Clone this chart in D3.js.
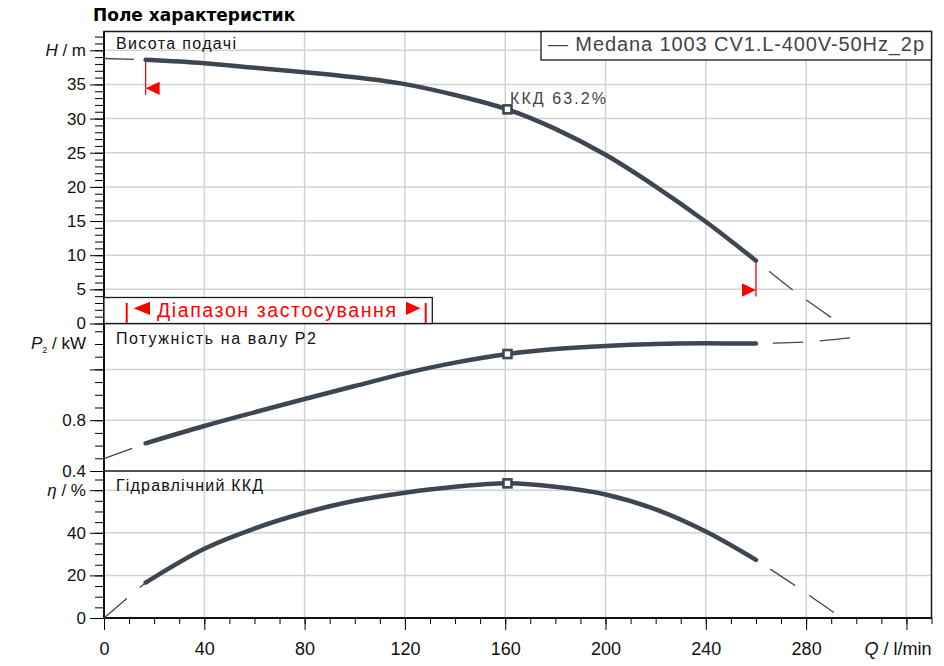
<!DOCTYPE html>
<html>
  <head>
    <script src="https://d3js.org/d3.v7.min.js"></script>
    <style>
      body { margin: 0; background: #fff; }
      svg { display: block; font-family: "Liberation Sans", Arial, sans-serif; }
    </style>
  </head>
  <body>
    <svg width="944" height="666"></svg>
    <script>
      // operating range of the pump (flow in l/min)
      const flow = [16.6, 40, 60, 80, 100, 120, 140, 160.9, 180, 200, 220, 240, 260];
      const head = [38.6, 38.1, 37.45, 36.8, 36.05, 35.05, 33.45, 31.35, 28.5, 24.7, 20.05, 14.9, 9.2];
      const power = [0.618, 0.754, 0.862, 0.967, 1.069, 1.169, 1.253, 1.321, 1.36, 1.385, 1.4, 1.405, 1.403];
      const efficiency = [16.6, 32.5, 42.0, 49.4, 55.0, 58.8, 61.6, 63.2, 61.6, 58.0, 51.0, 40.6, 27.3];

      // dashed parts outside the range
      const flowLeft = [0, 16.6];
      const headLeft = [38.8, 38.6];
      const powerLeft = [0.497, 0.618];
      const effLeft = [0, 16.6];
      const flowRight = [260, 275, 291.5];
      const headRight = [9.2, 4.8, 0.5];
      const effRight = [27.3, 15.7, 2.2];
      const flowRightP = [260, 280, 298.5];
      const powerRight = [1.403, 1.416, 1.45];

      // best efficiency point
      const bepFlow = 160.9;
      const bepHead = 31.35;
      const bepPower = 1.321;
      const bepEff = 63.2;

      const qTicks = [0, 40, 80, 120, 160, 200, 240, 280, 320];
      const hTicks = [0, 5, 10, 15, 20, 25, 30, 35, 40];
      const pTicks = [0.4, 0.8, 1.2];
      const eTicks = [0, 20, 40, 60];

      const curveColor = "#3d4651";
      const gridColor = "#d2d2d2";

      const svg = d3.select("svg");
      const plotL = 104, plotR = 931.5, plotT = 31.5;

      const x = d3.scaleLinear([0, 330], [plotL, plotR]);
      const yH = d3.scaleLinear([0, 42.75], [323.5, plotT]);
      const yP = d3.scaleLinear([0.4, 1.555], [471, 324.3]);
      const yE = d3.scaleLinear([0, 69], [618, 471]);

      // title
      svg.append("text")
        .attr("x", 93).attr("y", 21)
        .attr("font-family", "DejaVu Sans")
        .attr("font-weight", "bold")
        .attr("font-size", 17)
        .text("Поле характеристик");

      // grid
      const grid = svg.append("g").attr("stroke", gridColor).attr("stroke-width", 1.5);
      grid.selectAll(".v").data(qTicks.slice(1)).join("line")
        .attr("x1", d => x(d)).attr("x2", d => x(d))
        .attr("y1", plotT).attr("y2", 618);
      grid.selectAll(".h").data(hTicks.slice(1)).join("line")
        .attr("x1", plotL).attr("x2", plotR)
        .attr("y1", d => yH(d)).attr("y2", d => yH(d));
      grid.selectAll(".p").data(pTicks.slice(1)).join("line")
        .attr("x1", plotL).attr("x2", plotR)
        .attr("y1", d => yP(d)).attr("y2", d => yP(d));
      grid.selectAll(".e").data(eTicks.slice(1)).join("line")
        .attr("x1", plotL).attr("x2", plotR)
        .attr("y1", d => yE(d)).attr("y2", d => yE(d));

      // frame and panel separators
      svg.append("rect")
        .attr("x", plotL).attr("y", plotT)
        .attr("width", plotR - plotL).attr("height", 618 - plotT)
        .attr("fill", "none").attr("stroke", "#1a1a1a").attr("stroke-width", 1.5);
      [yH(0), 471].forEach(y => {
        svg.append("line").attr("x1", plotL).attr("x2", plotR)
          .attr("y1", y).attr("y2", y)
          .attr("stroke", "#1a1a1a").attr("stroke-width", 1.5);
      });

      // axes
      function yAxis(scale, minor, major, fmt) {
        svg.append("g").attr("transform", `translate(${plotL},0)`)
          .call(d3.axisLeft(scale).tickValues(minor).tickSize(9).tickFormat(""))
          .call(g => g.select(".domain").remove());
        svg.append("g").attr("transform", `translate(${plotL},0)`)
          .call(d3.axisLeft(scale).tickValues(major).tickSize(14).tickPadding(4).tickFormat(fmt))
          .call(g => g.select(".domain").remove())
          .call(g => g.selectAll("text").attr("font-size", 17).attr("font-family", "Liberation Sans").attr("fill", "#111"));
      }
      yAxis(yH, d3.range(0, 43, 1), hTicks.slice(0, -1), d3.format("d"));
      yAxis(yP, d3.range(4, 16).map(d => d / 10), pTicks.slice(0, 2), d3.format(".1f"));
      svg.append("g").attr("transform", `translate(${plotL},0)`)
        .call(d3.axisLeft(yP).tickValues([1.2]).tickSize(14).tickFormat(""))
        .call(g => g.select(".domain").remove());
      yAxis(yE, d3.range(0, 70, 5), eTicks.slice(0, -1), d3.format("d"));
      svg.append("g").attr("transform", `translate(${plotL},0)`)
        .call(d3.axisLeft(yE).tickValues([60]).tickSize(14).tickFormat(""))
        .call(g => g.select(".domain").remove());
      svg.append("g").attr("transform", `translate(${plotL},0)`)
        .call(d3.axisLeft(yH).tickValues([40]).tickSize(14).tickFormat(""))
        .call(g => g.select(".domain").remove());

      svg.append("g").attr("transform", "translate(0,618)")
        .call(d3.axisBottom(x).tickValues(d3.range(0, 331, 10)).tickSize(6).tickFormat(""))
        .call(g => g.select(".domain").remove());
      svg.append("g").attr("transform", "translate(0,618)")
        .call(d3.axisBottom(x).tickValues(qTicks).tickSize(12).tickPadding(12)
          .tickFormat(d => d === 320 ? "" : d))
        .call(g => g.select(".domain").remove())
        .call(g => g.selectAll("text").attr("font-size", 18).attr("font-family", "Liberation Sans").attr("fill", "#111"));
      svg.append("line").attr("x1", plotL).attr("x2", plotL).attr("y1", plotT).attr("y2", 618)
        .attr("stroke", "#111").attr("stroke-width", 2);
      svg.append("line").attr("x1", plotL).attr("x2", plotR).attr("y1", 618).attr("y2", 618)
        .attr("stroke", "#111").attr("stroke-width", 2);

      // axis titles
      function axisTitle(y, sym, unit, sub) {
        const t = svg.append("text").attr("x", 86).attr("y", y).attr("dy", "0.32em")
          .attr("text-anchor", "end").attr("font-size", 17).attr("fill", "#111");
        t.append("tspan").attr("font-style", "italic").text(sym);
        if (sub) t.append("tspan").attr("font-size", 9).attr("dy", 4).text(sub);
        t.append("tspan").attr("dy", sub ? -4 : 0).text(" / " + unit);
      }
      axisTitle(yH(40), "H", "m");
      axisTitle(yP(1.4), "P", "kW", "2");
      axisTitle(yE(60), "η", "%");
      svg.append("text").attr("x", plotR).attr("y", 655)
        .attr("text-anchor", "end").attr("font-size", 18).attr("fill", "#111")
        .call(t => t.append("tspan").attr("font-style", "italic").text("Q"))
        .call(t => t.append("tspan").text(" / l/min"));

      // panel captions
      const caption = (y, s, w) => svg.append("text").attr("x", 116).attr("y", y)
        .attr("font-size", 16).attr("fill", "#111")
        .attr("textLength", w).attr("lengthAdjust", "spacing").text(s);
      caption(48.5, "Висота подачі", 120);
      caption(343.5, "Потужність на валу P2", 200);
      caption(491, "Гідравлічний ККД", 147);

      // application range box
      svg.append("rect").attr("x", plotL).attr("y", 297.5)
        .attr("width", 432.3 - plotL).attr("height", yH(0) - 297.5)
        .attr("fill", "#fff").attr("stroke", "#1a1a1a").attr("stroke-width", 1.3);
      const red = "#ff0000";
      [126.7, 425.7].forEach(px => svg.append("line")
        .attr("x1", px).attr("x2", px).attr("y1", 303).attr("y2", 323)
        .attr("stroke", red).attr("stroke-width", 2));
      svg.append("path").attr("d", "M133.5,308.3L150,301.7L150,315Z").attr("fill", red);
      svg.append("path").attr("d", "M420.5,308.3L406,301.7L406,315Z").attr("fill", red);
      svg.append("text").attr("x", 157).attr("y", 316.5)
        .attr("font-size", 19.5).attr("fill", red)
        .attr("textLength", 239).attr("lengthAdjust", "spacing")
        .text("Діапазон застосування");

      // curves
      const smooth = d3.curveCatmullRom.alpha(0.5);
      const lineH = d3.line().x(d => x(d[0])).y(d => yH(d[1])).curve(smooth);
      const lineP = d3.line().x(d => x(d[0])).y(d => yP(d[1])).curve(smooth);
      const lineE = d3.line().x(d => x(d[0])).y(d => yE(d[1])).curve(smooth);
      const zip = (a, b) => a.map((v, i) => [v, b[i]]);

      const dashed = (gen, pts, offset) => svg.append("path")
        .attr("d", gen(pts)).attr("fill", "none")
        .attr("stroke", curveColor).attr("stroke-width", 1.3)
        .attr("stroke-dasharray", "30,17").attr("stroke-dashoffset", offset);
      dashed(lineH, zip(flowLeft, headLeft), 0);
      dashed(lineP, zip(flowLeft, powerLeft), 0);
      dashed(lineE, zip(flowLeft, effLeft), 0);
      dashed(lineH, zip(flowRight, headRight), 30);
      dashed(lineP, zip(flowRightP, powerRight), 30);
      dashed(lineE, zip(flowRight, effRight), 30);

      // range limit markers on the head curve
      const qMin = flow[0], qMax = flow[flow.length - 1];
      svg.append("line").attr("x1", x(qMin)).attr("x2", x(qMin))
        .attr("y1", yH(head[0])).attr("y2", yH(head[0]) + 35)
        .attr("stroke", red).attr("stroke-width", 1.3);
      svg.append("path")
        .attr("d", `M${x(qMin)},${yH(head[0]) + 28.5}l14,-6.7l0,13.4Z`).attr("fill", red);
      svg.append("line").attr("x1", x(qMax)).attr("x2", x(qMax))
        .attr("y1", yH(head[head.length - 1])).attr("y2", yH(0) - 27)
        .attr("stroke", red).attr("stroke-width", 1.3);
      svg.append("path")
        .attr("d", `M${x(qMax)},${yH(0) - 33.5}l-14,-6.7l0,13.4Z`).attr("fill", red);

      [[lineH, head], [lineP, power], [lineE, efficiency]].forEach(([gen, vals]) => {
        svg.append("path").attr("d", gen(zip(flow, vals))).attr("fill", "none")
          .attr("stroke", curveColor).attr("stroke-width", 4.5)
          .attr("stroke-linecap", "round").attr("stroke-linejoin", "round");
      });

      // BEP markers
      [[yH, bepHead], [yP, bepPower], [yE, bepEff]].forEach(([s, v]) => {
        svg.append("rect").attr("x", x(bepFlow) - 4).attr("y", s(v) - 4)
          .attr("width", 8).attr("height", 8)
          .attr("fill", "#fff").attr("stroke", curveColor).attr("stroke-width", 2.6);
      });
      svg.append("text").attr("x", 510).attr("y", 104)
        .attr("font-size", 16).attr("fill", "#444")
        .attr("textLength", 96).attr("lengthAdjust", "spacing")
        .text("ККД  " + bepEff + "%");

      // legend
      svg.append("rect").attr("x", 541).attr("y", plotT).attr("width", plotR - 541).attr("height", 28.5)
        .attr("fill", "#fff").attr("stroke", "#1a1a1a").attr("stroke-width", 1.3);
      svg.append("text").attr("x", 548).attr("y", 51)
        .attr("font-size", 20).attr("fill", "#444")
        .attr("textLength", 376).attr("lengthAdjust", "spacing")
        .text("— Medana 1003 CV1.L-400V-50Hz_2p");
    </script>
  </body>
</html>
